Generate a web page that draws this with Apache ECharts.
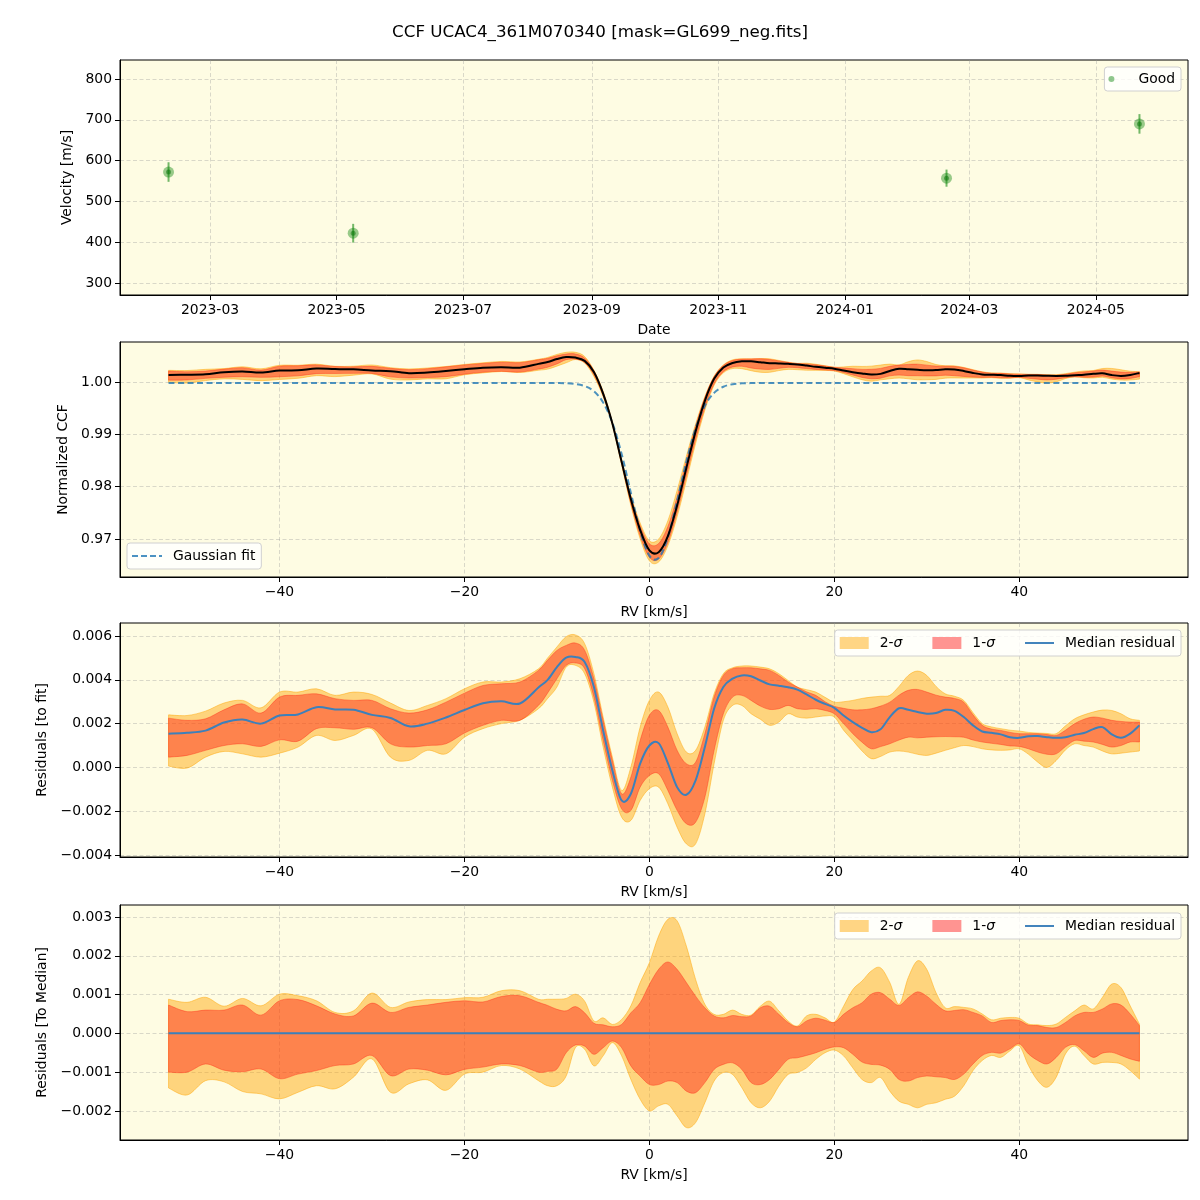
<!DOCTYPE html>
<html><head><meta charset="utf-8">
<script src="https://cdn.jsdelivr.net/npm/echarts@6/dist/echarts.min.js"></script>
<style>html,body{margin:0;padding:0;background:#fff}#c{width:1200px;height:1200px}</style>
</head><body><div id="c"></div>
<script>
// ---------- DATA ----------
const obsDates = ['2023-02-09', '2023-05-09', '2024-02-19', '2024-05-22'];
const velocities = [572, 422, 557, 690];
const velErrors = [24, 23, 21, 24];
const dateTicks = ['2023-03', '2023-05', '2023-07', '2023-09', '2023-11', '2024-01', '2024-03', '2024-05'];

const rvTicks = [-40, -20, 0, 20, 40];
const velTicks = [300, 400, 500, 600, 700, 800];
const ccfTicks = [0.97, 0.98, 0.99, 1.00];
const resTicks = [-0.004, -0.002, 0, 0.002, 0.004, 0.006];
const medTicks = [-0.002, -0.001, 0, 0.001, 0.002, 0.003];

const rv = [-52,-50,-48,-46,-44,-42,-40,-38,-36,-34,-32,-30,-28,-26,-24,-22,-20,-18,-16,-14,-12,
  -11,-10,-9,-8,-7,-6,-5,-4,-3,-2,-1,0,1,2,3,4,5,6,7,8,9,10,11,12,
  13,14,15,16,17,18,19,20,21,22,23,24,25,26,27,28,29,30,31,32,33,34,35,36,37,38,39,40,41,42,43,44,45,46,47,48,49,50,51,52,53];

const gaussFit = [0.9998,0.9998,0.9998,0.9998,0.9998,0.9998,0.9998,0.9998,0.9998,0.9998,0.9998,0.9998,0.9998,0.9998,0.9998,0.9998,0.9998,0.9998,0.9998,0.9998,0.9998,
  0.9998,0.99979,0.99975,0.99961,0.99922,0.99823,0.99608,0.99219,0.98625,0.97881,0.97158,0.96684,0.96638,0.97036,0.97729,0.98483,0.99115,0.99547,0.99791,0.99908,0.99957,0.99973,0.99978,0.9998,
  0.9998,0.9998,0.9998,0.9998,0.9998,0.9998,0.9998,0.9998,0.9998,0.9998,0.9998,0.9998,0.9998,0.9998,0.9998,0.9998,0.9998,0.9998,0.9998,0.9998,0.9998,
  0.9998,0.9998,0.9998,0.9998,0.9998,0.9998,0.9998,0.9998,0.9998,0.9998,0.9998,0.9998,0.9998,0.9998,0.9998,0.9998,0.9998,0.9998,0.9998,0.9998];

const ccfMedian = [1.00134,1.00138,1.00148,1.00185,1.00199,1.00180,1.00217,1.00222,1.00255,1.00245,1.00243,1.00220,1.00206,1.00168,1.00180,1.00208,1.00242,1.00273,1.00282,1.00272,1.00345,
  1.00380,1.00437,1.00476,1.00465,1.00403,1.00190,0.99777,0.99205,0.98474,0.97761,0.97175,0.96784,0.96749,0.97056,0.97639,0.98358,0.99056,0.99640,1.00059,1.00275,1.00362,1.00393,1.00394,1.00377,
  1.00359,1.00353,1.00346,1.00335,1.00313,1.00289,1.00270,1.00252,1.00217,1.00187,1.00161,1.00141,1.00154,1.00210,1.00250,1.00243,1.00233,1.00225,1.00228,1.00243,1.00238,
  1.00210,1.00172,1.00144,1.00138,1.00131,1.00118,1.00115,1.00122,1.00123,1.00118,1.00115,1.00118,1.00129,1.00137,1.00155,1.00164,1.00131,1.00115,1.00134,1.00172];

// residuals to fit
const fitResMedian = [0.00154,0.00158,0.00168,0.00205,0.00219,0.00200,0.00237,0.00242,0.00275,0.00265,0.00263,0.00240,0.00226,0.00188,0.00200,0.00228,0.00262,0.00293,0.00302,0.00292,0.00365,
  0.00400,0.00458,0.00501,0.00504,0.00481,0.00367,0.00169,-0.00014,-0.00151,-0.00120,0.00017,0.00100,0.00111,0.00020,-0.00090,-0.00125,-0.00059,0.00093,0.00268,0.00367,0.00405,0.00420,0.00416,0.00397,
  0.00379,0.00373,0.00366,0.00355,0.00333,0.00309,0.00290,0.00272,0.00237,0.00207,0.00181,0.00161,0.00174,0.00230,0.00270,0.00263,0.00253,0.00245,0.00248,0.00263,0.00258,
  0.00230,0.00192,0.00164,0.00158,0.00151,0.00138,0.00135,0.00142,0.00143,0.00138,0.00135,0.00138,0.00149,0.00157,0.00175,0.00184,0.00151,0.00135,0.00154,0.00192];
const fitRes1Up = [0.00225,0.00215,0.00222,0.00263,0.00290,0.00248,0.00321,0.00329,0.00336,0.00314,0.00306,0.00306,0.00268,0.00248,0.00263,0.00298,0.00339,0.00374,0.00382,0.00390,0.00443,
  0.00490,0.00534,0.00557,0.00568,0.00535,0.00405,0.00215,0.00032,-0.00120,-0.00044,0.00123,0.00238,0.00260,0.00184,0.00078,0.00017,0.00024,0.00154,0.00321,0.00420,0.00451,0.00455,0.00455,0.00450,
  0.00443,0.00420,0.00390,0.00367,0.00345,0.00329,0.00300,0.00279,0.00270,0.00263,0.00263,0.00268,0.00280,0.00298,0.00330,0.00352,0.00356,0.00344,0.00330,0.00321,0.00315,
  0.00298,0.00240,0.00192,0.00175,0.00169,0.00160,0.00154,0.00154,0.00154,0.00150,0.00146,0.00170,0.00200,0.00220,0.00230,0.00225,0.00215,0.00210,0.00207,0.00207];
const fitRes1Lo = [0.00047,0.00055,0.00078,0.00100,0.00108,0.00096,0.00126,0.00120,0.00177,0.00181,0.00174,0.00181,0.00108,0.00093,0.00100,0.00108,0.00157,0.00192,0.00215,0.00215,0.00283,
  0.00340,0.00405,0.00466,0.00477,0.00451,0.00321,0.00123,-0.00059,-0.00189,-0.00196,-0.00090,-0.00037,-0.00029,-0.00105,-0.00196,-0.00257,-0.00250,-0.00136,0.00078,0.00245,0.00321,0.00329,0.00306,0.00280,
  0.00265,0.00268,0.00283,0.00268,0.00265,0.00268,0.00260,0.00245,0.00200,0.00154,0.00115,0.00085,0.00095,0.00108,0.00125,0.00138,0.00135,0.00138,0.00140,0.00141,0.00140,
  0.00138,0.00125,0.00116,0.00110,0.00105,0.00098,0.00096,0.00085,0.00070,0.00060,0.00062,0.00095,0.00123,0.00120,0.00116,0.00105,0.00093,0.00100,0.00116,0.00116];
const fitRes2Up = [0.00240,0.00237,0.00257,0.00294,0.00306,0.00272,0.00344,0.00344,0.00359,0.00329,0.00344,0.00333,0.00294,0.00260,0.00283,0.00314,0.00359,0.00390,0.00390,0.00405,0.00450,
  0.00500,0.00550,0.00597,0.00605,0.00565,0.00428,0.00230,0.00047,-0.00105,0.00002,0.00184,0.00306,0.00344,0.00276,0.00154,0.00070,0.00078,0.00184,0.00336,0.00428,0.00455,0.00463,0.00463,0.00458,
  0.00450,0.00428,0.00397,0.00367,0.00355,0.00344,0.00320,0.00298,0.00300,0.00306,0.00315,0.00321,0.00325,0.00329,0.00370,0.00420,0.00440,0.00420,0.00370,0.00336,0.00325,
  0.00306,0.00250,0.00200,0.00185,0.00177,0.00170,0.00166,0.00160,0.00157,0.00155,0.00154,0.00190,0.00222,0.00240,0.00253,0.00262,0.00260,0.00245,0.00222,0.00215];
const fitRes2Lo = [0.00006,-0.00003,0.00047,0.00073,0.00062,0.00047,0.00065,0.00093,0.00146,0.00123,0.00146,0.00175,0.00047,0.00032,0.00078,0.00062,0.00138,0.00177,0.00200,0.00215,0.00268,
  0.00315,0.00367,0.00458,0.00466,0.00428,0.00298,0.00093,-0.00090,-0.00227,-0.00242,-0.00151,-0.00097,-0.00090,-0.00166,-0.00273,-0.00349,-0.00349,-0.00212,0.00017,0.00215,0.00283,0.00283,0.00245,0.00220,
  0.00192,0.00207,0.00245,0.00230,0.00225,0.00230,0.00235,0.00230,0.00170,0.00123,0.00075,0.00040,0.00050,0.00070,0.00075,0.00070,0.00060,0.00055,0.00065,0.00078,0.00090,
  0.00100,0.00095,0.00085,0.00080,0.00078,0.00080,0.00085,0.00060,0.00024,0.00000,0.00032,0.00080,0.00108,0.00100,0.00093,0.00075,0.00062,0.00065,0.00070,0.00075];

// residuals to median (spread of the CCFs around their median)
const medRes1Up = [0.00073,0.00056,0.00060,0.00060,0.00073,0.00047,0.00084,0.00087,0.00071,0.00050,0.00045,0.00078,0.00054,0.00067,0.00073,0.00080,0.00084,0.00081,0.00095,0.00097,0.00080,
  0.00072,0.00062,0.00058,0.00069,0.00053,0.00026,0.00022,0.00017,0.00023,0.00053,0.00079,0.00126,0.00165,0.00184,0.00165,0.00131,0.00096,0.00066,0.00045,0.00040,0.00046,0.00043,0.00045,0.00066,
  0.00070,0.00049,0.00028,0.00017,0.00032,0.00039,0.00034,0.00028,0.00049,0.00066,0.00079,0.00101,0.00105,0.00088,0.00072,0.00092,0.00107,0.00096,0.00075,0.00058,0.00059,
  0.00061,0.00054,0.00045,0.00028,0.00033,0.00035,0.00033,0.00021,0.00020,0.00015,0.00015,0.00028,0.00045,0.00054,0.00054,0.00063,0.00076,0.00073,0.00050,0.00020];
const medRes2Up = [0.00088,0.00080,0.00093,0.00070,0.00090,0.00071,0.00101,0.00097,0.00084,0.00054,0.00058,0.00104,0.00067,0.00081,0.00087,0.00087,0.00092,0.00093,0.00110,0.00110,0.00088,
  0.00088,0.00088,0.00090,0.00101,0.00083,0.00032,0.00040,0.00023,0.00036,0.00071,0.00131,0.00182,0.00251,0.00294,0.00290,0.00225,0.00139,0.00075,0.00049,0.00049,0.00060,0.00049,0.00047,0.00070,
  0.00083,0.00058,0.00032,0.00019,0.00045,0.00049,0.00040,0.00029,0.00070,0.00113,0.00135,0.00161,0.00169,0.00131,0.00075,0.00144,0.00187,0.00165,0.00105,0.00066,0.00069,
  0.00067,0.00063,0.00050,0.00035,0.00039,0.00041,0.00039,0.00024,0.00022,0.00020,0.00024,0.00041,0.00058,0.00073,0.00063,0.00093,0.00127,0.00118,0.00071,0.00024];
const medRes1Lo = [-0.00100,-0.00100,-0.00079,-0.00095,-0.00099,-0.00092,-0.00117,-0.00105,-0.00096,-0.00083,-0.00079,-0.00057,-0.00109,-0.00092,-0.00095,-0.00107,-0.00093,-0.00087,-0.00079,-0.00083,-0.00100,
  -0.00098,-0.00092,-0.00050,-0.00030,-0.00033,-0.00054,-0.00037,-0.00020,-0.00037,-0.00084,-0.00110,-0.00132,-0.00132,-0.00123,-0.00127,-0.00149,-0.00153,-0.00127,-0.00093,-0.00080,-0.00076,-0.00093,-0.00127,-0.00132,
  -0.00119,-0.00093,-0.00067,-0.00063,-0.00057,-0.00050,-0.00041,-0.00035,-0.00037,-0.00054,-0.00074,-0.00080,-0.00082,-0.00093,-0.00119,-0.00123,-0.00114,-0.00110,-0.00112,-0.00114,-0.00119,
  -0.00105,-0.00079,-0.00057,-0.00049,-0.00051,-0.00040,-0.00027,-0.00053,-0.00070,-0.00079,-0.00062,-0.00036,-0.00029,-0.00045,-0.00062,-0.00051,-0.00049,-0.00057,-0.00066,-0.00072];
const medRes2Lo = [-0.00141,-0.00159,-0.00122,-0.00125,-0.00150,-0.00156,-0.00169,-0.00152,-0.00135,-0.00143,-0.00113,-0.00066,-0.00152,-0.00130,-0.00120,-0.00147,-0.00105,-0.00100,-0.00083,-0.00092,-0.00122,
  -0.00135,-0.00135,-0.00110,-0.00037,-0.00041,-0.00084,-0.00058,-0.00024,-0.00058,-0.00119,-0.00170,-0.00200,-0.00187,-0.00183,-0.00213,-0.00243,-0.00230,-0.00179,-0.00123,-0.00101,-0.00106,-0.00140,-0.00179,-0.00192,
  -0.00175,-0.00136,-0.00106,-0.00101,-0.00089,-0.00067,-0.00050,-0.00043,-0.00058,-0.00089,-0.00119,-0.00127,-0.00114,-0.00149,-0.00175,-0.00183,-0.00192,-0.00183,-0.00179,-0.00170,-0.00162,
  -0.00135,-0.00096,-0.00070,-0.00057,-0.00062,-0.00045,-0.00032,-0.00083,-0.00122,-0.00139,-0.00113,-0.00053,-0.00033,-0.00057,-0.00079,-0.00075,-0.00075,-0.00079,-0.00096,-0.00118];

// ---------- CHART ----------
const FONT = 'DejaVu Sans';
const FS = 13.9;
const BG = '#fefce3';
const C2 = 'rgba(255,165,0,0.45)', E2 = 'rgba(255,165,0,0.6)';
const C1 = 'rgba(255,0,0,0.38)',   E1 = 'rgba(255,40,20,0.5)';
const BLUE = '#3d80ba';

function utc(s) { const p = s.split('-').map(Number); return Date.UTC(p[0], p[1] - 1, p[2] || 1); }
const tObs = obsDates.map(utc);
const tSpan = tObs[tObs.length - 1] - tObs[0];
const tMin = tObs[0] - 0.05 * tSpan, tMax = tObs[tObs.length - 1] + 0.05 * tSpan;
const dateTickVals = dateTicks.map(utc);

const minus = s => s.replace('-', '\u2212');
const splitLine = { show: true, lineStyle: { color: 'rgba(150,150,150,0.45)', type: [4, 2.5], width: 0.8 } };

function xAxisRV(gi) {
  return {
    type: 'value', gridIndex: gi, min: -57.25, max: 58.25,
    name: 'RV [km/s]', nameLocation: 'middle', nameGap: 28,
    nameTextStyle: { fontFamily: FONT, fontSize: FS, color: '#000' },
    axisLine: { show: true, onZero: false, lineStyle: { color: '#000', width: 1 } },
    axisTick: { show: true, length: 5, customValues: rvTicks, lineStyle: { color: '#000' } },
    axisLabel: { customValues: rvTicks, margin: 8, fontFamily: FONT, fontSize: FS, color: '#000',
      formatter: v => minus(String(Math.round(v))) },
    splitLine: splitLine
  };
}
function yAxis(gi, min, max, ticks, fmt, name, gap) {
  return {
    type: 'value', gridIndex: gi, min: min, max: max,
    name: name, nameLocation: 'middle', nameGap: gap,
    nameTextStyle: { fontFamily: FONT, fontSize: FS, color: '#000' },
    axisLine: { show: true, onZero: false, lineStyle: { color: '#000', width: 1 } },
    axisTick: { show: true, length: 5, customValues: ticks, lineStyle: { color: '#000' } },
    axisLabel: { customValues: ticks, margin: 8, fontFamily: FONT, fontSize: FS, color: '#000', formatter: fmt },
    splitLine: splitLine
  };
}

function pairs(xs, ys) { return xs.map((x, i) => [x, ys[i]]); }
const addArr = (a, b) => a.map((v, i) => v + b[i]);

// smooth path through pixel points (Catmull-Rom as cubic Bezier)
function curveTo(pts) {
  let d = '';
  for (let i = 0; i < pts.length - 1; i++) {
    const p0 = pts[i - 1] || pts[i], p1 = pts[i], p2 = pts[i + 1], p3 = pts[i + 2] || p2;
    const c1x = p1[0] + (p2[0] - p0[0]) / 6, c1y = p1[1] + (p2[1] - p0[1]) / 6;
    const c2x = p2[0] - (p3[0] - p1[0]) / 6, c2y = p2[1] - (p3[1] - p1[1]) / 6;
    d += 'C' + c1x.toFixed(2) + ',' + c1y.toFixed(2) + ' ' + c2x.toFixed(2) + ',' + c2y.toFixed(2) + ' ' + p2[0].toFixed(2) + ',' + p2[1].toFixed(2);
  }
  return d;
}
const mv = p => 'M' + p[0].toFixed(2) + ',' + p[1].toFixed(2);
const ln = p => 'L' + p[0].toFixed(2) + ',' + p[1].toFixed(2);

// filled band between two curves, drawn through the axes' scales
function band(idx, lower, upper, fill, edge, z, name) {
  return {
    type: 'custom', name: name, xAxisIndex: idx, yAxisIndex: idx, z: z, silent: true,
    itemStyle: { color: fill },
    data: [[rv[0], lower[0]]],
    renderItem: (params, api) => {
      const up = rv.map((x, i) => api.coord([x, upper[i]]));
      const lo = rv.map((x, i) => api.coord([x, lower[i]])).reverse();
      const d = mv(up[0]) + curveTo(up) + ln(lo[0]) + curveTo(lo) + 'Z';
      return { type: 'path', shape: { pathData: d }, style: { fill: fill, stroke: edge, lineWidth: 0.8 } };
    }
  };
}
// smooth curve drawn through the axes' scales
function curve(idx, ys, color, width, dash, z, name) {
  return {
    type: 'custom', name: name, xAxisIndex: idx, yAxisIndex: idx, z: z, silent: true,
    itemStyle: { color: color },
    data: [[rv[0], ys[0]]],
    renderItem: (params, api) => {
      const pts = rv.map((x, i) => api.coord([x, ys[i]]));
      return { type: 'path', shape: { pathData: mv(pts[0]) + curveTo(pts) },
        style: { fill: null, stroke: color, lineWidth: width, lineDash: dash || null, lineJoin: 'round', lineCap: 'butt' } };
    }
  };
}

const grids = [
  { left: 120, top: 60, width: 1068, height: 235 },
  { left: 120, top: 342, width: 1068, height: 235 },
  { left: 120, top: 623, width: 1068, height: 234 },
  { left: 120, top: 905, width: 1068, height: 235 }
].map(g => Object.assign(g, { show: true, backgroundColor: BG, borderColor: '#000', borderWidth: 1, containLabel: false }));

const legendBase = {
  orient: 'horizontal', backgroundColor: 'rgba(255,255,255,0.8)', borderColor: '#d0d0d0', borderWidth: 1,
  borderRadius: 3,
  textStyle: { fontFamily: FONT, fontSize: FS, color: '#000', padding: [0, 0, 0, 6],
    rich: { s: { fontStyle: 'italic', fontFamily: FONT, fontSize: FS, color: '#000' } } },
  formatter: n => n.replace('σ', '{s|σ}'), selectedMode: false
};
const lineIcon = 'path://M0,0 L30,0 L30,2 L0,2 Z';
const bandLegendData = [
  { name: '2-σ', icon: 'rect', itemStyle: { color: 'rgba(255,165,0,0.47)', borderWidth: 0 } },
  { name: '1-σ', icon: 'rect', itemStyle: { color: 'rgba(255,0,0,0.42)', borderWidth: 0 } },
  { name: 'Median residual', icon: lineIcon, itemStyle: { color: BLUE, borderWidth: 0 } }
];

const option = {
  animation: false,
  backgroundColor: '#ffffff',
  title: { text: 'CCF UCAC4_361M070340 [mask=GL699_neg.fits]', left: 'center', top: 24, padding: 0,
    textStyle: { fontFamily: FONT, fontSize: 16.7, fontWeight: 'normal', color: '#000' } },
  grid: grids,
  xAxis: [
    {
      type: 'value', gridIndex: 0, min: tMin, max: tMax,
      name: 'Date', nameLocation: 'middle', nameGap: 28,
      nameTextStyle: { fontFamily: FONT, fontSize: FS, color: '#000' },
      axisLine: { show: true, onZero: false, lineStyle: { color: '#000', width: 1 } },
      axisTick: { show: true, length: 5, customValues: dateTickVals, lineStyle: { color: '#000' } },
      axisLabel: { customValues: dateTickVals, margin: 8, fontFamily: FONT, fontSize: FS, color: '#000',
        formatter: v => { const d = new Date(v); return d.getUTCFullYear() + '-' + String(d.getUTCMonth() + 1).padStart(2, '0'); } },
      splitLine: splitLine
    },
    xAxisRV(1), xAxisRV(2), xAxisRV(3)
  ],
  yAxis: [
    yAxis(0, 270.6, 846.6, velTicks, v => String(Math.round(v)), 'Velocity [m/s]', 38),
    yAxis(1, 0.96275, 1.00763, ccfTicks, v => v.toFixed(2), 'Normalized CCF', 42),
    yAxis(2, -0.00409, 0.006594, resTicks, v => minus(v.toFixed(3)), 'Residuals [to fit]', 63),
    yAxis(3, -0.00275, 0.00331, medTicks, v => minus(v.toFixed(3)), 'Residuals [To Median]', 63)
  ],
  legend: [
    Object.assign({}, legendBase, { right: 19, top: 67, itemWidth: 32, itemHeight: 6, padding: [5, 6, 5, 4],
      data: [{ name: 'Good', icon: 'circle', itemStyle: { color: 'rgba(0,128,0,0.55)' } }] }),
    Object.assign({}, legendBase, { left: 127, top: 543, itemWidth: 30, itemHeight: 12, padding: [6, 6, 6, 5],
      data: [{ name: 'Gaussian fit', icon: 'path://M0,0 L6,0 L6,2 L0,2 Z M9,0 L15,0 L15,2 L9,2 Z M18,0 L24,0 L24,2 L18,2 Z M27,0 L30,0 L30,2 L27,2 Z',
               itemStyle: { color: 'rgba(31,119,180,0.8)', borderWidth: 0 } }] }),
    Object.assign({}, legendBase, { right: 19, top: 630, itemWidth: 29, itemHeight: 12, itemGap: 30, padding: [6, 6, 6, 5],
      symbolKeepAspect: true, data: bandLegendData }),
    Object.assign({}, legendBase, { right: 19, top: 913, itemWidth: 29, itemHeight: 12, itemGap: 30, padding: [6, 6, 6, 5],
      symbolKeepAspect: true, data: bandLegendData })
  ],
  series: [
    // ---- panel 1 ----
    {
      type: 'custom', xAxisIndex: 0, yAxisIndex: 0, z: 4, silent: true,
      data: tObs.map((t, i) => [t, velocities[i] - velErrors[i], velocities[i] + velErrors[i]]),
      encode: { x: 0, y: [1, 2] },
      renderItem: (params, api) => {
        const a = api.coord([api.value(0), api.value(1)]);
        const b = api.coord([api.value(0), api.value(2)]);
        return { type: 'line', shape: { x1: a[0], y1: a[1], x2: b[0], y2: b[1] },
          style: { stroke: 'rgba(0,128,0,0.55)', lineWidth: 2 } };
      }
    },
    { type: 'scatter', name: 'Good', xAxisIndex: 0, yAxisIndex: 0, z: 5, symbolSize: 11,
      itemStyle: { color: 'rgba(0,128,0,0.5)' }, data: pairs(tObs, velocities) },
    { type: 'scatter', xAxisIndex: 0, yAxisIndex: 0, z: 6, symbolSize: 5, silent: true,
      itemStyle: { color: 'rgba(0,110,0,0.6)' }, data: pairs(tObs, velocities) },

    // ---- panel 2 ----
    band(1, addArr(ccfMedian, medRes2Lo), addArr(ccfMedian, medRes2Up), C2, E2, 2, 'ccf 2-sigma'),
    band(1, addArr(ccfMedian, medRes1Lo), addArr(ccfMedian, medRes1Up), C1, E1, 3, 'ccf 1-sigma'),
    curve(1, gaussFit, 'rgba(31,119,180,0.8)', 2, [6, 3.5], 5, 'Gaussian fit'),
    curve(1, ccfMedian, '#000000', 2, null, 6, 'CCF median'),

    // ---- panel 3 ----
    band(2, fitRes2Lo, fitRes2Up, C2, E2, 2, '2-σ'),
    band(2, fitRes1Lo, fitRes1Up, C1, E1, 3, '1-σ'),
    curve(2, fitResMedian, BLUE, 2, null, 5, 'Median residual'),

    // ---- panel 4 ----
    band(3, medRes2Lo, medRes2Up, C2, E2, 2, '2-σ'),
    band(3, medRes1Lo, medRes1Up, C1, E1, 3, '1-σ'),
    { type: 'line', name: 'Median residual', xAxisIndex: 3, yAxisIndex: 3, z: 5, symbol: 'none', silent: true,
      itemStyle: { color: BLUE }, lineStyle: { color: BLUE, width: 2 }, data: rv.map(x => [x, 0]) }
  ]
};

const chart = echarts.init(document.getElementById('c'), null, { renderer: 'canvas', width: 1200, height: 1200 });
chart.setOption(option);
</script>
</body></html>
